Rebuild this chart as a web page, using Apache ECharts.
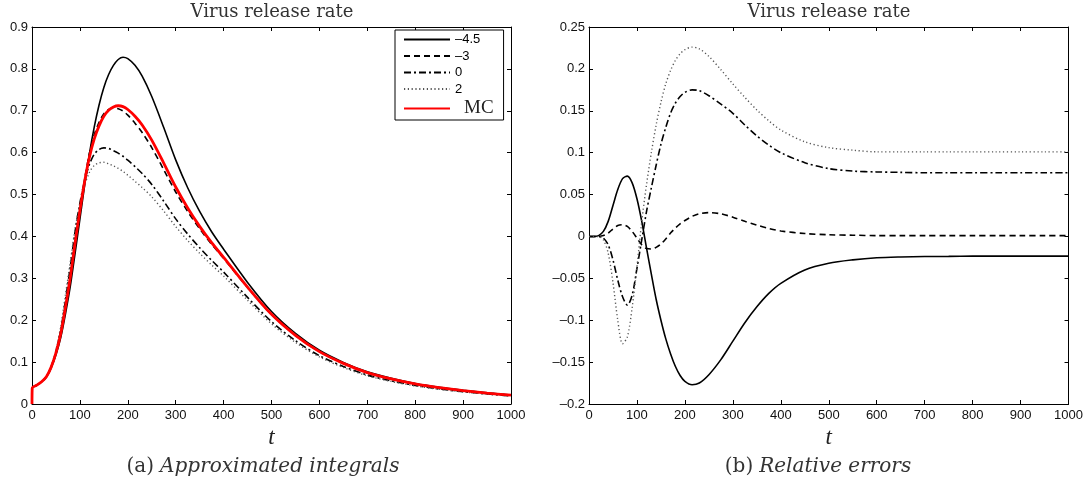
<!DOCTYPE html>
<html>
<head>
<meta charset="utf-8">
<script src="https://cdn.jsdelivr.net/npm/echarts@6/dist/echarts.min.js"></script>
<style>html,body{margin:0;padding:0;background:#fff}#c{width:1086px;height:486px}</style>
</head>
<body>
<div id="c"></div>
<script>
// time grid (shared)
var T = [0,10,20,30,40,50,60,70,80,90,100,110,120,130,140,150,160,170,180,190,200,215,230,250,275,300,325,350,375,400,450,500,550,600,650,700,750,800,850,900,950,1000];

// (a) approximated integrals
var mc    = [0.038,0.045,0.053,0.065,0.088,0.122,0.168,0.232,0.303,0.385,0.462,0.532,0.590,0.633,0.664,0.687,0.701,0.709,0.712,0.710,0.703,0.687,0.666,0.630,0.575,0.518,0.468,0.424,0.385,0.350,0.279,0.214,0.164,0.125,0.097,0.075,0.060,0.048,0.039,0.032,0.026,0.021];
var a_m45 = [0.038,0.045,0.053,0.0646,0.0864,0.1175,0.1586,0.216,0.2812,0.3604,0.4412,0.5224,0.5983,0.6615,0.7138,0.7557,0.7865,0.8083,0.8224,0.8279,0.8246,0.8086,0.7826,0.7340,0.6601,0.5828,0.5162,0.4596,0.4112,0.3696,0.2902,0.2208,0.1686,0.1282,0.0994,0.0768,0.0614,0.0491,0.0399,0.0328,0.0266,0.0215];
var a_m3  = [0.038,0.045,0.053,0.065,0.0876,0.1209,0.1658,0.2288,0.2994,0.3827,0.4629,0.5373,0.5986,0.6425,0.6726,0.6932,0.7031,0.7062,0.7049,0.6994,0.6896,0.6705,0.648,0.612,0.5595,0.5061,0.4596,0.4183,0.3813,0.3477,0.278,0.2136,0.1638,0.1249,0.0969,0.0749,0.0599,0.048,0.039,0.032,0.026,0.021];
var a_0   = [0.038,0.045,0.053,0.0651,0.0889,0.1254,0.1767,0.2487,0.3278,0.412,0.4796,0.5341,0.5723,0.5963,0.6076,0.6114,0.6099,0.6048,0.5988,0.5914,0.5821,0.5668,0.5501,0.5242,0.4842,0.4419,0.4058,0.3731,0.343,0.315,0.2545,0.1967,0.1512,0.1154,0.0896,0.0693,0.0554,0.0444,0.036,0.0296,0.024,0.0194];
var a_2   = [0.038,0.045,0.053,0.0653,0.0898,0.1287,0.1848,0.2617,0.3394,0.4177,0.4786,0.5224,0.5534,0.5697,0.5757,0.5771,0.5734,0.5686,0.5625,0.5552,0.5462,0.5317,0.5168,0.4946,0.4606,0.4237,0.3903,0.36,0.3319,0.3056,0.2475,0.1913,0.1471,0.1124,0.0872,0.0674,0.0539,0.0432,0.0351,0.0288,0.0234,0.0189];

// (b) relative errors
var e_m45 = [0,0,0.001,0.006,0.018,0.037,0.056,0.069,0.072,0.064,0.045,0.018,-0.014,-0.045,-0.075,-0.100,-0.122,-0.140,-0.155,-0.166,-0.173,-0.177,-0.175,-0.165,-0.147,-0.125,-0.103,-0.084,-0.068,-0.056,-0.040,-0.032,-0.028,-0.0255,-0.0245,-0.024,-0.0238,-0.0235,-0.0235,-0.0235,-0.0235,-0.0235];
var e_m3  = [0,0,0,0.001,0.004,0.009,0.013,0.014,0.012,0.006,-0.002,-0.010,-0.0145,-0.015,-0.013,-0.009,-0.003,0.004,0.010,0.015,0.019,0.024,0.027,0.0285,0.027,0.023,0.018,0.0135,0.0095,0.0065,0.0035,0.002,0.0015,0.001,0.001,0.001,0.001,0.001,0.001,0.001,0.001,0.001];
var e_0   = [0,0,0,-0.002,-0.010,-0.028,-0.052,-0.072,-0.082,-0.070,-0.038,-0.004,0.030,0.058,0.085,0.110,0.130,0.147,0.159,0.167,0.172,0.175,0.174,0.168,0.158,0.147,0.133,0.120,0.109,0.100,0.088,0.081,0.078,0.077,0.0765,0.076,0.076,0.076,0.076,0.076,0.076,0.076];
var e_2   = [0,0,0,-0.004,-0.020,-0.055,-0.100,-0.128,-0.120,-0.085,-0.036,0.018,0.062,0.100,0.133,0.160,0.182,0.198,0.210,0.218,0.223,0.226,0.224,0.215,0.199,0.182,0.166,0.151,0.138,0.127,0.113,0.106,0.103,0.101,0.101,0.101,0.101,0.101,0.101,0.101,0.101,0.101];

var legendNames = ['–4.5','–3','0','2','MC'];
var xTicks = ['0','100','200','300','400','500','600','700','800','900','1000'];
var yTicksA = ['0','0.1','0.2','0.3','0.4','0.5','0.6','0.7','0.8','0.9'];
var yTicksB = ['–0.2','–0.15','–0.1','–0.05','0','0.05','0.1','0.15','0.2','0.25'];

function pairs(ys, withZero) {
  var out = withZero ? [[0, 0]] : [];
  for (var i = 0; i < T.length; i++) out.push([i === 0 && withZero ? 0.5 : T[i], ys[i]]);
  return out;
}

var SANS = 'Liberation Sans';
var SERIF = 'Liberation Serif';
var CAPSERIF = 'DejaVu Serif';
var axisLine = {show: true, onZero: false, lineStyle: {color: '#000', width: 1}};
var tick = {show: true, inside: true, length: 4, lineStyle: {color: '#000', width: 1}};
var lab = {fontFamily: SANS, fontSize: 13, color: '#111'};

function xAxes(gi) {
  return [
    {type: 'value', gridIndex: gi, min: 0, max: 1000, interval: 100, position: 'bottom',
     axisLine: axisLine, axisTick: tick, splitLine: {show: false},
     axisLabel: Object.assign({margin: 5, formatter: function (v, i) { return xTicks[i]; }}, lab),
     name: 't', nameLocation: 'middle', nameGap: 14,
     nameTextStyle: {fontFamily: SERIF, fontStyle: 'italic', fontSize: 23, color: '#222'}},
    {type: 'value', gridIndex: gi, min: 0, max: 1000, interval: 100, position: 'top',
     axisLine: axisLine, axisTick: tick, splitLine: {show: false}, axisLabel: {show: false}}
  ];
}
function yAxes(gi, min, max, iv, labels) {
  return [
    {type: 'value', gridIndex: gi, min: min, max: max, interval: iv, position: 'left',
     axisLine: axisLine, axisTick: tick, splitLine: {show: false},
     axisLabel: Object.assign({margin: 4, formatter: function (v, i) { return labels[i]; }}, lab)},
    {type: 'value', gridIndex: gi, min: min, max: max, interval: iv, position: 'right',
     axisLine: axisLine, axisTick: tick, splitLine: {show: false}, axisLabel: {show: false}}
  ];
}

var styles = [
  {color: '#000', width: 1.6, type: 'solid'},
  {color: '#000', width: 1.6, type: [6, 4]},
  {color: '#000', width: 1.6, type: [7, 3, 2, 3]},
  {color: '#555', width: 1.4, type: [1.2, 2.6]}
];
var leftData = [a_m45, a_m3, a_0, a_2];
var rightData = [e_m45, e_m3, e_0, e_2];

var series = [];
for (var k = 0; k < 4; k++) {
  series.push({name: legendNames[k], type: 'line', xAxisIndex: 0, yAxisIndex: 0, data: pairs(leftData[k], true),
    symbol: 'none', smooth: 0.3, lineStyle: styles[k], itemStyle: {color: styles[k].color}, z: 2, animation: false});
}
series.push({name: 'MC', type: 'line', xAxisIndex: 0, yAxisIndex: 0, data: pairs(mc, true),
  symbol: 'none', smooth: 0.3, lineStyle: {color: '#ff0000', width: 2.8}, itemStyle: {color: '#ff0000'}, z: 3, animation: false});
for (var k2 = 0; k2 < 4; k2++) {
  series.push({name: 'err' + k2, type: 'line', xAxisIndex: 2, yAxisIndex: 2, data: pairs(rightData[k2], false),
    symbol: 'none', smooth: 0.3, lineStyle: styles[k2], itemStyle: {color: styles[k2].color}, z: 2, animation: false});
}

var titleStyle = {fontFamily: CAPSERIF, fontSize: 18, fill: '#333'};
var capRich = {n: {fontFamily: CAPSERIF, fontSize: 20, fill: '#333', padding: [0, 6, 0, 0]}, i: {fontFamily: CAPSERIF, fontStyle: 'italic', fontSize: 20, fill: '#333'}};
var option = {
  backgroundColor: '#fff',
  animation: false,
  grid: [
    {left: 32, top: 27, width: 479, height: 377},
    {left: 589, top: 27, width: 480, height: 377}
  ],
  xAxis: xAxes(0).concat(xAxes(1)),
  yAxis: yAxes(0, 0, 0.9, 0.1, yTicksA).concat(yAxes(1, -0.2, 0.25, 0.05, yTicksB)),
  legend: {
    data: legendNames, orient: 'vertical', left: 395, top: 30,
    padding: [3, 10, 2, 8], itemGap: 3.5, itemWidth: 46, itemHeight: 14,
    borderColor: '#000', borderWidth: 1, backgroundColor: '#fff',
    selectedMode: false,
    itemStyle: {opacity: 0, borderWidth: 0},
    formatter: function (n) { return n === 'MC' ? '{mc|MC}' : '{s|' + n + '}'; },
    textStyle: {rich: {
      s: {fontFamily: SANS, fontSize: 13, lineHeight: 14, color: '#000'},
      mc: {fontFamily: SERIF, fontSize: 19, lineHeight: 14, color: '#222', padding: [0, 0, 0, 9]}
    }}
  },
  graphic: [
    {type: 'text', silent: true, style: Object.assign({text: 'Virus release rate', x: 272, y: 12, textAlign: 'center', textVerticalAlign: 'middle'}, titleStyle)},
    {type: 'text', silent: true, style: Object.assign({text: 'Virus release rate', x: 829, y: 12, textAlign: 'center', textVerticalAlign: 'middle'}, titleStyle)},
    {type: 'text', silent: true, style: {text: '{n|(a)}{i|Approximated integrals}', x: 263, y: 467, textAlign: 'center', textVerticalAlign: 'middle', rich: capRich}},
    {type: 'text', silent: true, style: {text: '{n|(b)}{i|Relative errors}', x: 818, y: 467, textAlign: 'center', textVerticalAlign: 'middle', rich: capRich}}
  ],
  series: series
};
var chart = echarts.init(document.getElementById('c'), null, {renderer: 'canvas'});
chart.setOption(option);
</script>
</body>
</html>
